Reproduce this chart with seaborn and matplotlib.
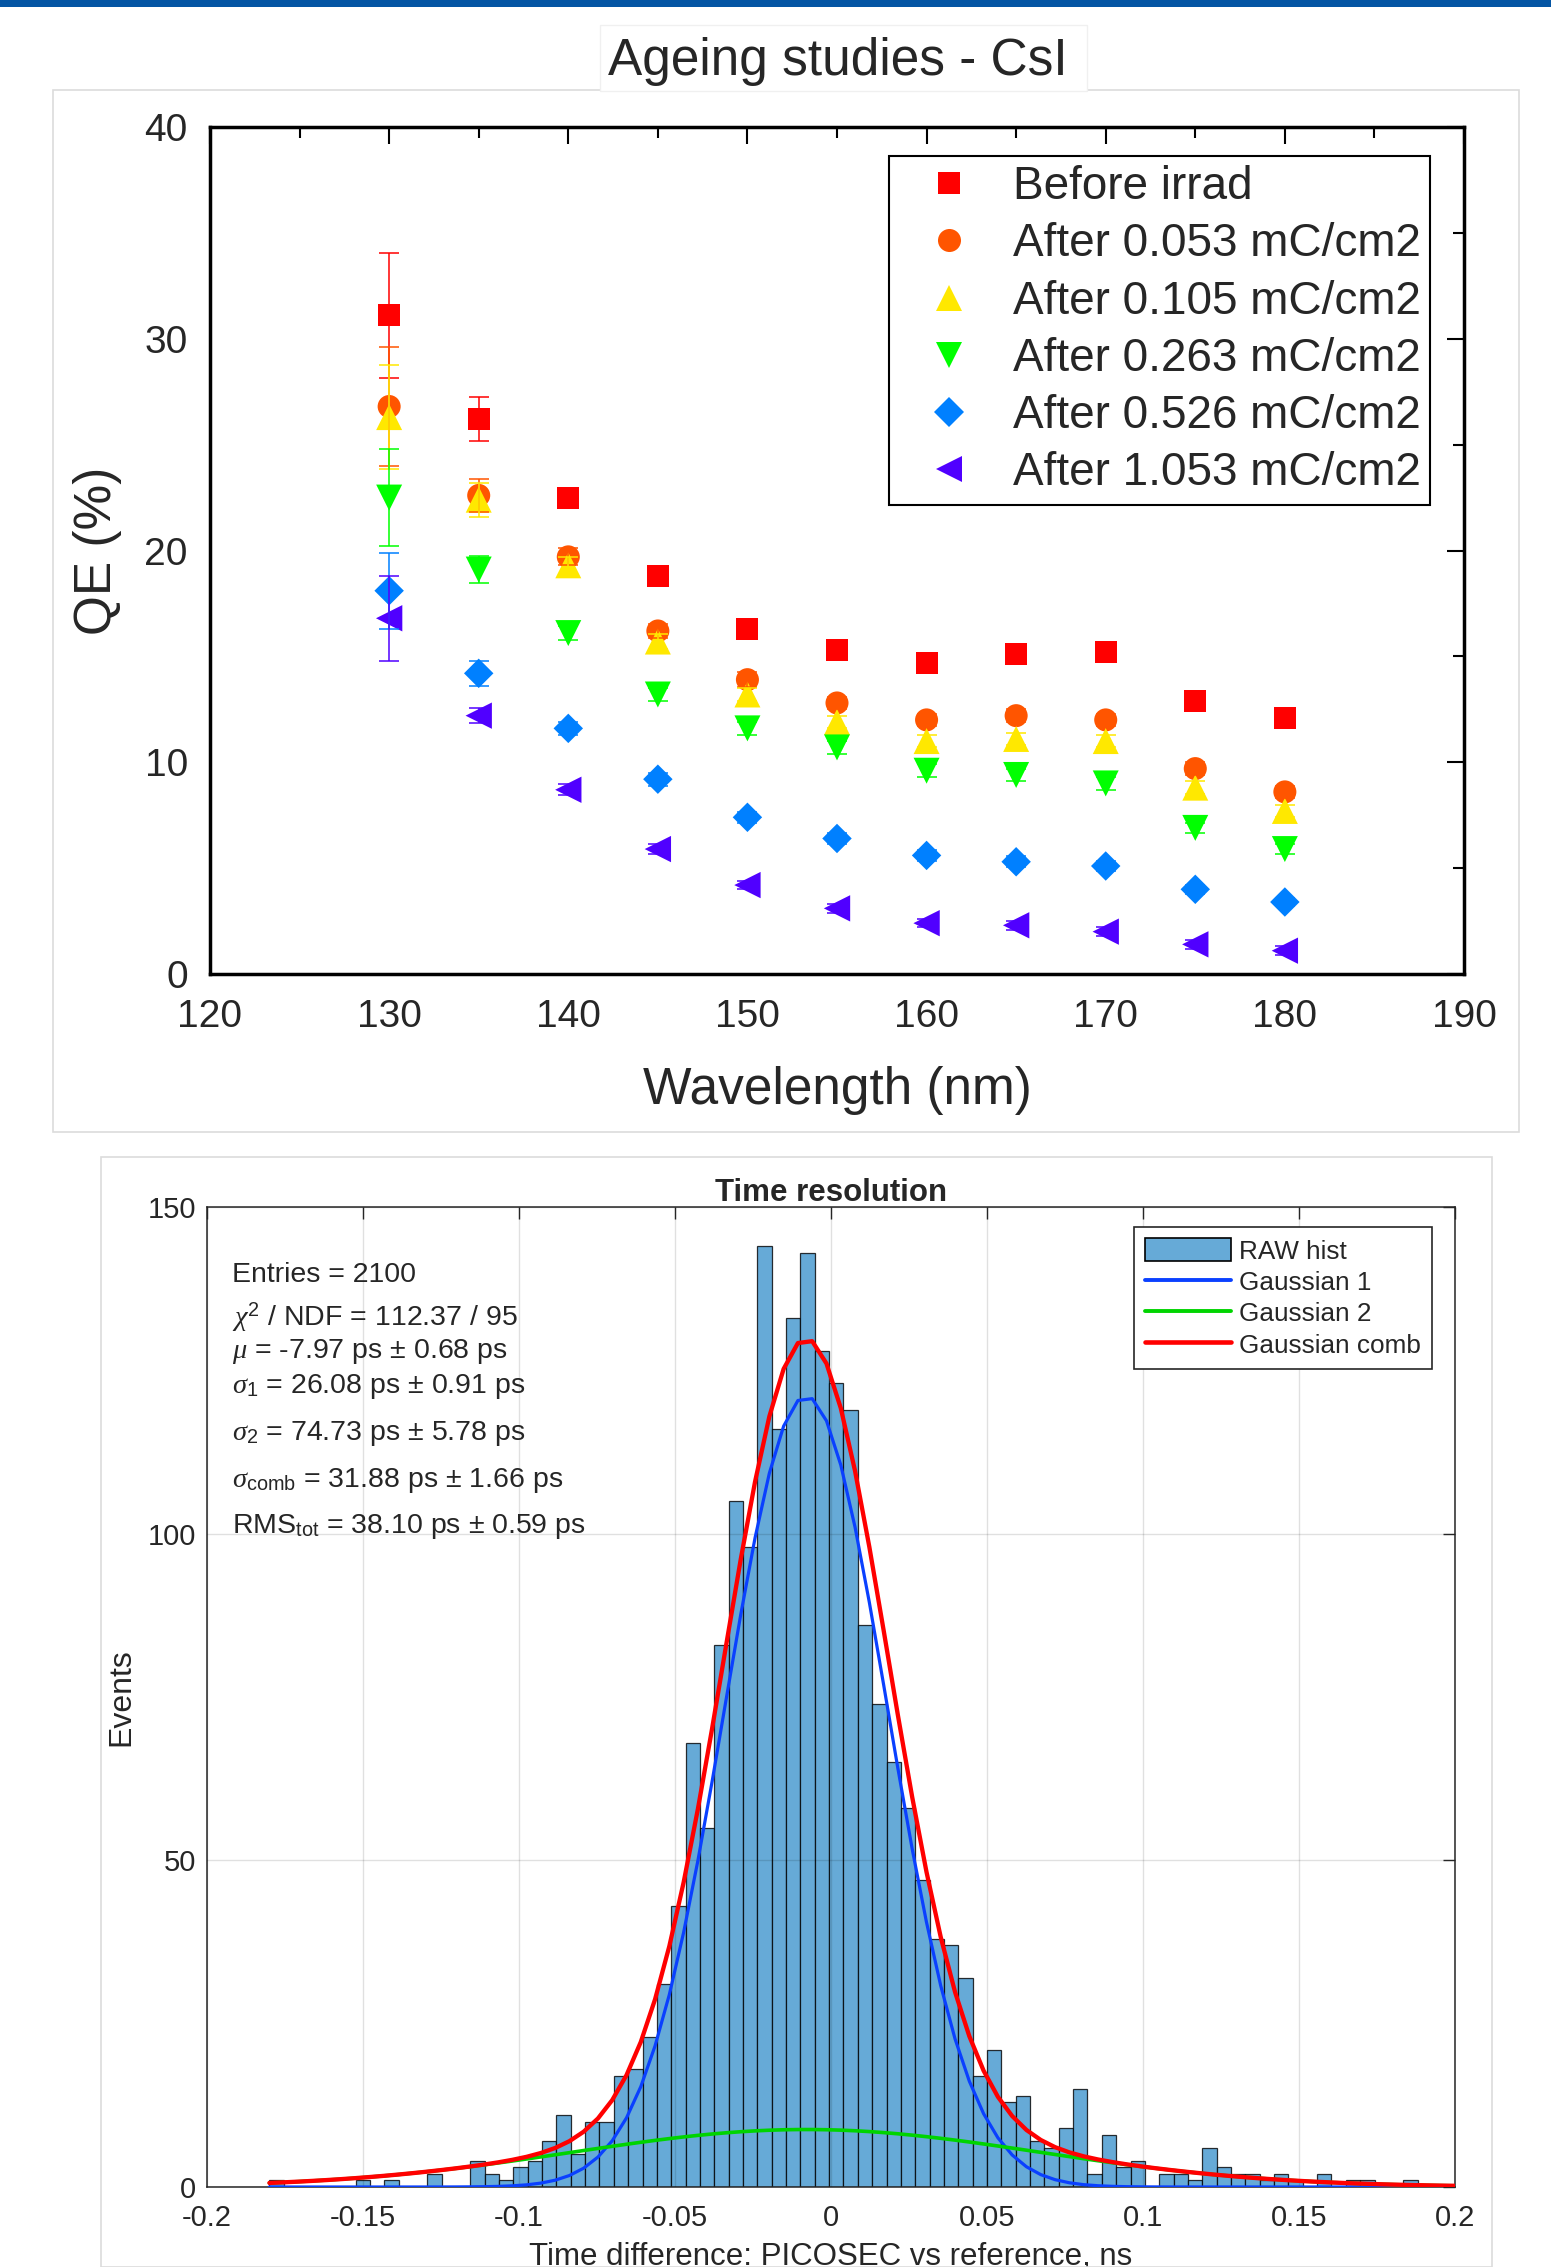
import numpy as np
import pandas as pd
import seaborn as sns
import matplotlib.pyplot as plt
from matplotlib.patches import Rectangle, Patch
from matplotlib.lines import Line2D

# ---------------- top panel data: QE vs wavelength ----------------
wavelength = [130, 135, 140, 145, 150, 155, 160, 165, 170, 175, 180]
qe_before = [31.1, 26.2, 22.5, 18.8, 16.3, 15.3, 14.7, 15.1, 15.2, 12.9, 12.1]
qe_0053 = [26.8, 22.6, 19.7, 16.2, 13.9, 12.8, 12.0, 12.2, 12.0, 9.7, 8.6]
qe_0105 = [26.3, 22.4, 19.3, 15.7, 13.2, 11.9, 11.0, 11.1, 11.0, 8.8, 7.7]
qe_0263 = [22.5, 19.1, 16.1, 13.2, 11.6, 10.7, 9.6, 9.4, 9.0, 6.9, 5.9]
qe_0526 = [18.1, 14.2, 11.6, 9.2, 7.4, 6.4, 5.6, 5.3, 5.1, 4.0, 3.4]
qe_1053 = [16.8, 12.2, 8.7, 5.9, 4.2, 3.1, 2.4, 2.3, 2.0, 1.4, 1.1]

err_before = [2.95, 1.05, 0.45, 0.4, 0.4, 0.35, 0.35, 0.35, 0.35, 0.3, 0.3]
err_0053 = [2.8, 0.8, 0.4, 0.35, 0.35, 0.3, 0.3, 0.3, 0.3, 0.3, 0.3]
err_0105 = [2.45, 0.8, 0.4, 0.35, 0.3, 0.3, 0.3, 0.3, 0.3, 0.3, 0.3]
err_0263 = [2.3, 0.65, 0.35, 0.3, 0.3, 0.3, 0.3, 0.3, 0.3, 0.25, 0.25]
err_0526 = [1.8, 0.6, 0.3, 0.3, 0.25, 0.25, 0.25, 0.25, 0.25, 0.2, 0.2]
err_1053 = [2.0, 0.35, 0.25, 0.25, 0.2, 0.2, 0.2, 0.2, 0.2, 0.2, 0.2]

series_labels = ["Before irrad", "After 0.053 mC/cm2", "After 0.105 mC/cm2",
                 "After 0.263 mC/cm2", "After 0.526 mC/cm2", "After 1.053 mC/cm2"]
series_colors = ["#ff0000", "#ff5500", "#ffe800", "#00ff00", "#0080ff", "#5000ff"]
series_markers = ["s", "o", "^", "v", "D", "<"]
series_sizes = [250, 275, 350, 350, 225, 360]

# ---------------- bottom panel data: time resolution histogram ----------------
hist_start = -0.18
bin_width = 0.0046
counts = [1, 0, 0, 0, 0, 0, 1, 0, 1, 0,
          0, 2, 0, 0, 4, 2, 1, 3, 4, 7,
          11, 5, 10, 10, 17, 18, 23, 31, 43, 68,
          55, 83, 105, 98, 144, 116, 133, 143, 128, 123,
          119, 86, 74, 65, 58, 47, 38, 37, 32, 17,
          21, 13, 14, 7, 6, 9, 15, 2, 8, 3,
          4, 0, 2, 2, 1, 6, 3, 2, 2, 1,
          2, 1, 0, 2, 0, 1, 1, 0, 0, 1]
fit_mu = -0.00797
fit_sigma1 = 0.02608
fit_sigma2 = 0.07473
fit_amp1 = 121.0
fit_amp2 = 8.8
fit_range = (-0.18, 0.2)
stats_lines = [
    "Entries = 2100",
    r"$\chi^{\rm 2}$ / NDF = 112.37 / 95",
    r"$\mu$ = -7.97 ps $\pm$ 0.68 ps",
    r"$\sigma_{\rm 1}$ = 26.08 ps $\pm$ 0.91 ps",
    r"$\sigma_{\rm 2}$ = 74.73 ps $\pm$ 5.78 ps",
    r"$\sigma_{\rm comb}$ = 31.88 ps $\pm$ 1.66 ps",
    r"RMS$_{\rm tot}$ = 38.10 ps $\pm$ 0.59 ps",
]
stats_y = [0.9238, 0.8796, 0.8456, 0.8099, 0.7622, 0.7146, 0.6670]
hist_xticks = [-0.2, -0.15, -0.1, -0.05, 0, 0.05, 0.1, 0.15, 0.2]
hist_xticklabels = ["-0.2", "-0.15", "-0.1", "-0.05", "0", "0.05", "0.1", "0.15", "0.2"]

# ---------------- style ----------------
sns.set_style("white")
plt.rcParams["font.family"] = ["Liberation Sans", "DejaVu Sans"]
plt.rcParams["mathtext.fontset"] = "custom"
plt.rcParams["mathtext.rm"] = "Liberation Sans"
plt.rcParams["mathtext.it"] = "Liberation Serif:italic"
plt.rcParams["mathtext.bf"] = "Liberation Sans:bold"
plt.rcParams["axes.unicode_minus"] = False

fig = plt.figure(figsize=(15.51, 22.67), dpi=100)

# decorations: blue top strip, panel frames, title box
fig.patches.append(Rectangle((0, 1 - 7 / 2267), 1, 7 / 2267, transform=fig.transFigure,
                             facecolor="#0455a4", edgecolor="none", zorder=0))
fig.patches.append(Rectangle((53 / 1551, 1 - 1132 / 2267), (1519 - 53) / 1551, (1132 - 90) / 2267,
                             transform=fig.transFigure, fill=False, edgecolor="#dcdcdc", lw=1.2, zorder=0))
fig.patches.append(Rectangle((101 / 1551, 0), (1492 - 101) / 1551, (2267 - 1157) / 2267,
                             transform=fig.transFigure, fill=False, edgecolor="#dcdcdc", lw=1.2, zorder=0))
fig.patches.append(Rectangle((600 / 1551, 1 - 91 / 2267), (1087 - 600) / 1551, (91 - 25) / 2267,
                             transform=fig.transFigure, facecolor="white", edgecolor="#f0f0f0", lw=1.0, zorder=1))
fig.text(838 / 1551, 1 - 61 / 2267, "Ageing studies - CsI", fontsize=37, ha="center", va="center")

# ---------------- top panel ----------------
ax1 = fig.add_axes([210 / 1551, 1 - 974 / 2267, 1254 / 1551, 847 / 2267])

qe_lists = [qe_before, qe_0053, qe_0105, qe_0263, qe_0526, qe_1053]
err_lists = [err_before, err_0053, err_0105, err_0263, err_0526, err_1053]
frames = []
for lab, q, e in zip(series_labels, qe_lists, err_lists):
    frames.append(pd.DataFrame({"wavelength": wavelength, "qe": q, "err": e, "series": lab}))
qe_df = pd.concat(frames, ignore_index=True)

sns.scatterplot(data=qe_df, x="wavelength", y="qe", hue="series", style="series", size="series",
                hue_order=series_labels, style_order=series_labels, size_order=series_labels,
                palette=dict(zip(series_labels, series_colors)),
                markers=dict(zip(series_labels, series_markers)),
                sizes=dict(zip(series_labels, series_sizes)),
                linewidth=0, legend=False, ax=ax1, zorder=3)
for lab, col in zip(series_labels, series_colors):
    sub = qe_df[qe_df["series"] == lab]
    ax1.errorbar(sub["wavelength"], sub["qe"], yerr=sub["err"], fmt="none", ecolor=col,
                 elinewidth=1.1, capsize=7, capthick=1.1, zorder=4)

ax1.set_xlim(120, 190)
ax1.set_ylim(0, 40)
ax1.set_xticks(range(120, 191, 10))
ax1.set_xticks(range(125, 190, 10), minor=True)
ax1.set_yticks(range(0, 41, 10))
ax1.set_yticks(range(5, 40, 10), minor=True)
ax1.tick_params(which="both", direction="in", top=True, right=True, width=1.5, color="black")
ax1.tick_params(which="major", length=12, labelsize=28)
ax1.tick_params(which="minor", length=8)
ax1.tick_params(axis="x", pad=18)
ax1.tick_params(axis="y", pad=16)
for sp in ax1.spines.values():
    sp.set_linewidth(2.5)
    sp.set_color("black")
ax1.set_xlabel("Wavelength (nm)", fontsize=37)
ax1.set_ylabel("QE (%)", fontsize=37)
ax1.xaxis.set_label_coords(0.5, -0.137)
ax1.xaxis.label.set_va("center")
ax1.yaxis.set_label_coords(-0.09, 0.5)
ax1.yaxis.label.set_va("center")

qe_handles = [Line2D([], [], ls="none", marker=m, color=c, markersize=np.sqrt(s), markeredgewidth=0)
              for m, c, s in zip(series_markers, series_colors, series_sizes)]
leg1 = ax1.legend(qe_handles, series_labels, loc="upper right", bbox_to_anchor=(0.973, 0.966),
                  borderaxespad=0, fontsize=33, frameon=True, fancybox=False, framealpha=1,
                  edgecolor="black", borderpad=0.2, handlelength=2.2, handletextpad=0.3,
                  labelspacing=0.29)
leg1.get_frame().set_linewidth(1.5)

# ---------------- bottom panel ----------------
ax2 = fig.add_axes([207 / 1551, 80 / 2267, 1248 / 1551, 980 / 2267])

edges = hist_start + bin_width * np.arange(len(counts) + 1)
centers = (edges[:-1] + edges[1:]) / 2
hist_df = pd.DataFrame({"center": centers, "count": counts})
sns.histplot(data=hist_df, x="center", weights="count", bins=list(edges), ax=ax2,
             color="#66aad7", alpha=1, edgecolor=(0, 0, 0, 0.8), linewidth=0.9, zorder=2)

fit_x = np.linspace(fit_range[0], fit_range[1], 84)
g1 = fit_amp1 * np.exp(-0.5 * ((fit_x - fit_mu) / fit_sigma1) ** 2)
g2 = fit_amp2 * np.exp(-0.5 * ((fit_x - fit_mu) / fit_sigma2) ** 2)
sns.lineplot(x=fit_x, y=g1, color="#0a40ff", lw=2.3, ax=ax2, zorder=4)
sns.lineplot(x=fit_x, y=g2, color="#00d400", lw=2.6, ax=ax2, zorder=4)
sns.lineplot(x=fit_x, y=g1 + g2, color="#ff0000", lw=3.1, ax=ax2, zorder=5)

ax2.set_xlim(-0.2, 0.2)
ax2.set_ylim(0, 150)
ax2.set_xticks(hist_xticks)
ax2.set_xticklabels(hist_xticklabels)
ax2.set_yticks([0, 50, 100, 150])
ax2.grid(True, color="black", alpha=0.12, lw=1.0)
ax2.set_axisbelow(False)
ax2.tick_params(direction="in", top=True, right=True, length=8.6, width=1.0,
                color="#262626", labelsize=21)
ax2.tick_params(axis="x", pad=12)
ax2.tick_params(axis="y", pad=8)
for sp in ax2.spines.values():
    sp.set_linewidth(1.1)
    sp.set_color("#262626")
ax2.set_title("Time resolution", fontsize=22.5, fontweight="bold", pad=4)
ax2.set_xlabel("Time difference: PICOSEC vs reference, ns", fontsize=22.5)
ax2.set_ylabel("Events", fontsize=23)
ax2.xaxis.set_label_coords(0.5, -0.056)
ax2.yaxis.set_label_coords(-0.0689, 0.5)
ax2.yaxis.label.set_va("center")

for line, yy in zip(stats_lines, stats_y):
    ax2.text(0.0198, yy, line, transform=ax2.transAxes, fontsize=20.5, va="baseline", ha="left", zorder=6)

hist_handles = [Patch(facecolor="#66aad7", edgecolor="black", lw=1.2),
                Line2D([], [], color="#0a40ff", lw=2.8),
                Line2D([], [], color="#00d400", lw=2.8),
                Line2D([], [], color="#ff0000", lw=3.3)]
leg2 = ax2.legend(hist_handles, ["RAW hist", "Gaussian 1", "Gaussian 2", "Gaussian comb"],
                  loc="upper right", bbox_to_anchor=(0.9816, 0.9796), borderaxespad=0,
                  fontsize=18.8, frameon=True, fancybox=False, framealpha=1, edgecolor="#262626",
                  borderpad=0.42, handlelength=3.3, handleheight=1.0, handletextpad=0.3,
                  labelspacing=0.22)
leg2.get_frame().set_linewidth(1.2)

fig.savefig("out.png", dpi=100)
